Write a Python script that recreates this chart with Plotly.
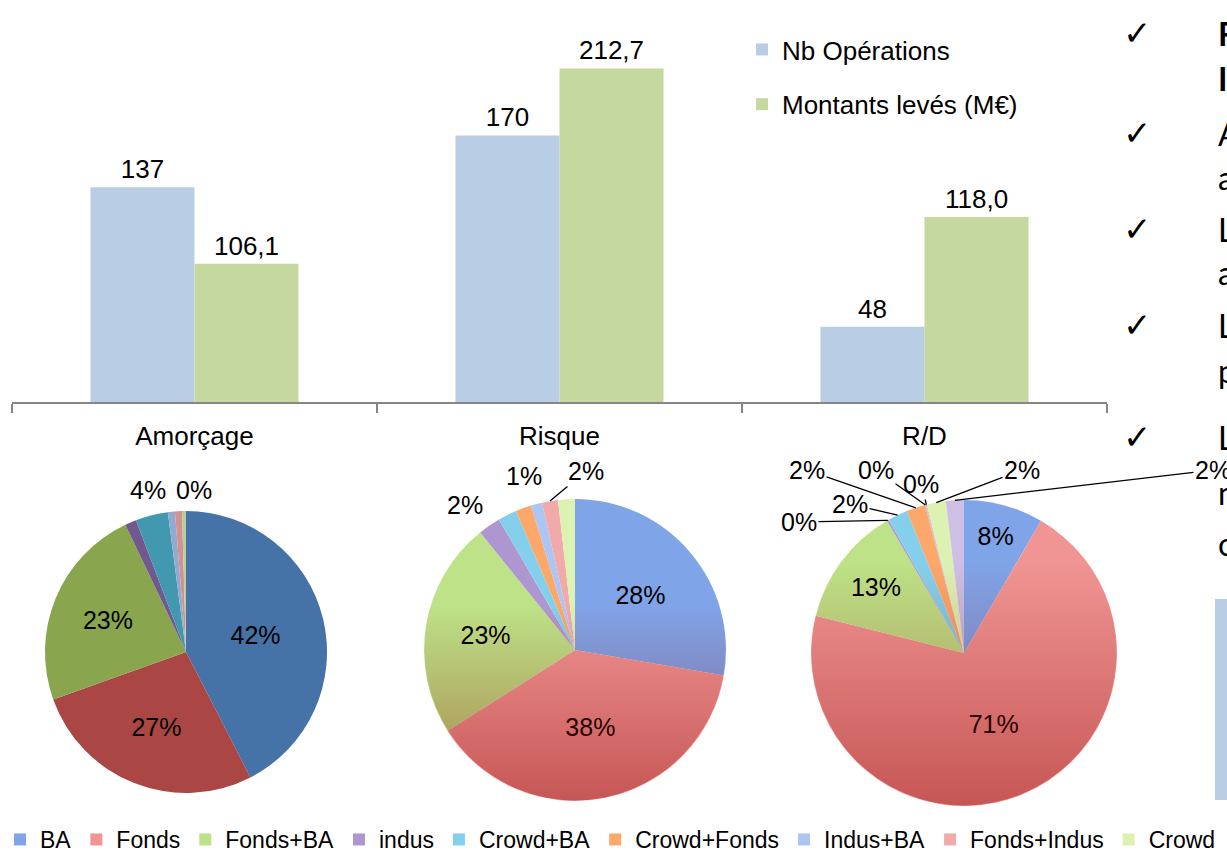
import math
import base64
import plotly.graph_objects as go

W, H = 1227, 861

# ---------------- data ----------------
stades = ["Amorçage", "Risque", "R/D"]
nb_operations = [137, 170, 48]
montants_leves = [88.1, 212.7, 118.0]          # bar height as drawn in the picture
montants_labels = ["106,1", "212,7", "118,0"]  # labels printed above the bars

financeurs = ["BA", "Fonds", "Fonds+BA", "indus", "Crowd+BA", "Crowd+Fonds",
              "Indus+BA", "Fonds+Indus", "Crowd", "Crowd+Indus"]
part_amorcage = [42.3, 27.0, 23.3, 1.3, 3.7, 0.0, 0.8, 0.8, 0.45, 0.0]
part_risque = [27.7, 38.3, 23.2, 2.4, 2.0, 1.7, 1.2, 1.7, 1.8, 0.0]
part_rd = [8.4, 70.6, 12.7, 0.2, 2.1, 2.0, 0.1, 0.1, 2.0, 1.9]

# ---------------- styles ----------------
FONT = "Liberation Sans, Arial, sans-serif"
col_ops = "#b9cde5"
col_mont = "#c5d8a0"
colors_flat = ["#4572a7", "#aa4643", "#89a54e", "#71588f", "#4198af",
               "#db843d", "#93a9cf", "#d19392", "#b9cd96", "#a99bbd"]
colors_soft = ["#80a4e8", "#f09593", "#bde287", "#ae97d0", "#84d0ec",
               "#fca86a", "#adc5f2", "#f1aaaa", "#dcf2b2", "#cdbfe6"]

# pie boxes in pixels (x0, x1, y0, y1)
box_amorcage = (45, 327, 511, 793)
box_risque = (424, 726, 499, 801)
box_rd = (811, 1117, 500, 806)

# outside labels: slice index -> (label centre px, draw leader line)
out_amorcage = {4: ((148, 490), False), 8: ((194, 490), False)}
out_risque = {3: ((465, 505), False), 6: ((524, 476), False), 7: ((586, 471), True)}
out_rd = {3: ((799, 522), True), 4: ((850, 504), True), 5: ((807, 470), True),
          6: ((876, 470), True), 7: ((921, 484), True), 8: ((1022, 470), True),
          9: ((1213, 470), True)}
N_INSIDE = 3  # the three big slices carry their label inside


def dom(b):
    x0, x1, y0, y1 = b
    return dict(x=[x0 / W, x1 / W], y=[1 - y1 / H, 1 - y0 / H])


fig = go.Figure()

fig.add_trace(go.Bar(
    x=stades, y=nb_operations, name="Nb Opérations",
    marker=dict(color=col_ops, line=dict(width=0)),
    text=[str(v) for v in nb_operations], textposition="outside",
    textfont=dict(size=26, color="black"), cliponaxis=False,
    legend="legend2", legendgroup="a"))
fig.add_trace(go.Bar(
    x=stades, y=montants_leves, name="Montants levés (M€)",
    marker=dict(color=col_mont, line=dict(width=0)),
    text=montants_labels, textposition="outside",
    textfont=dict(size=26, color="black"), cliponaxis=False,
    legend="legend2", legendgroup="b"))

annotations = []

pies = [
    # values, colours, box, outside labels, show in legend
    (part_risque, colors_soft, box_risque, out_risque, True),
    (part_amorcage, colors_flat, box_amorcage, out_amorcage, False),
    (part_rd, colors_soft, box_rd, out_rd, False),
]
for vals, cols, box, outs, show in pies:
    n = len(vals) if not show else len(financeurs) - 1   # 10th item is cropped off the legend
    pos = ["inside" if i < N_INSIDE else "none" for i in range(n)]
    fig.add_trace(go.Pie(
        labels=financeurs[:n], values=vals[:n], sort=False, direction="clockwise",
        rotation=0, domain=dom(box), marker=dict(colors=cols[:n], line=dict(width=0)),
        texttemplate="%{percent:.0%}", textposition=pos,
        insidetextorientation="horizontal",
        textfont=dict(size=25, color="black", family=FONT),
        legend="legend", showlegend=show, hoverinfo="label+percent"))

    # outside labels with leader lines, anchored on the slice edge
    x0, x1, y0, y1 = box
    cx, cy = (x0 + x1) / 2, (y0 + y1) / 2
    r = min(x1 - x0, y1 - y0) / 2
    total = sum(vals[:n])
    cum = 0.0
    for i in range(n):
        v = vals[i]
        if i in outs:
            theta = 2 * math.pi * (cum + v / 2) / total
            axp = cx + r * math.sin(theta)
            ayp = cy - r * math.cos(theta)
            (lx, ly), line = outs[i]
            txt = "%d%%" % round(100 * v / total)
            if line:
                annotations.append(dict(
                    text=txt, x=axp / W, y=1 - ayp / H, xref="paper", yref="paper",
                    ax=lx - axp, ay=ly - ayp, axref="pixel", ayref="pixel",
                    showarrow=True, arrowhead=0, arrowwidth=1.3, arrowcolor="black",
                    standoff=0, startstandoff=0,
                    font=dict(size=25, family=FONT, color="black")))
            else:
                annotations.append(dict(
                    text=txt, x=lx / W, y=1 - ly / H, xref="paper", yref="paper",
                    showarrow=False, xanchor="center", yanchor="middle",
                    font=dict(size=25, family=FONT, color="black")))
        cum += v


# vertical shading over the two "gradient" pies (darker towards the bottom)
def shade(color, start, alpha):
    svg = ('<svg xmlns="http://www.w3.org/2000/svg" width="200" height="200" viewBox="0 0 200 200">'
           '<defs><linearGradient id="g" x1="0" y1="0" x2="0" y2="1">'
           f'<stop offset="{start}" stop-color="{color}" stop-opacity="0.0"/>'
           f'<stop offset="1" stop-color="{color}" stop-opacity="{alpha}"/>'
           '</linearGradient></defs>'
           '<circle cx="100" cy="100" r="99.6" fill="url(#g)"/></svg>')
    return "data:image/svg+xml;base64," + base64.b64encode(svg.encode()).decode()


images = []
for box, src in ((box_risque, shade("#8b0000", 0.35, 0.42)),
                 (box_rd, shade("#8b0000", 0.2, 0.42))):
    x0, x1, y0, y1 = box
    cx, cy = (x0 + x1) / 2, (y0 + y1) / 2
    r = min(x1 - x0, y1 - y0) / 2
    images.append(dict(source=src, xref="paper", yref="paper",
                       x=(cx - r) / W, y=1 - (cy - r) / H, sizex=2 * r / W, sizey=2 * r / H,
                       xanchor="left", yanchor="top", sizing="stretch", layer="above"))

check_rows = [33, 133, 229, 325, 437]
for yy in check_rows:
    annotations.append(dict(text="<b>✓</b>", x=1137 / W, y=1 - yy / H, xref="paper", yref="paper",
                            showarrow=False, xanchor="center", yanchor="middle",
                            font=dict(family="DejaVu Sans", size=34, color="black")))
side_text = [("<b>F</b>", 33), ("<b>I</b>", 78), ("A", 133), ("a", 178), ("L", 229),
             ("a", 272), ("L", 325), ("p", 370), ("L", 437), ("n", 493), ("c", 543)]
for t, yy in side_text:
    annotations.append(dict(text=t, x=1216 / W, y=1 - yy / H, xref="paper", yref="paper",
                            showarrow=False, xanchor="left", yanchor="middle",
                            font=dict(family="Lato, Open Sans", size=32, color="black")))

fig.update_layout(
    width=W, height=H, margin=dict(l=0, r=0, t=0, b=0),
    paper_bgcolor="white", plot_bgcolor="white",
    font=dict(family=FONT, size=26, color="black"),
    barmode="group", bargap=0.43, bargroupgap=0,
    xaxis=dict(domain=[12 / W, 1107 / W], type="category", showline=True,
               linecolor="#868686", linewidth=1.5, ticks="outside",
               tickson="boundaries", ticklen=9, tickcolor="#868686", tickwidth=1.5,
               tickfont=dict(size=26, color="black"), ticklabelstandoff=10,
               showgrid=False, zeroline=False, fixedrange=True),
    yaxis=dict(domain=[1 - 402 / H, 1 - 10 / H], range=[0, 250], visible=False,
               fixedrange=True),
    legend=dict(orientation="h", x=0, y=0, xanchor="left", yanchor="bottom",
                font=dict(size=23, family=FONT, color="black"), bgcolor="rgba(0,0,0,0)",
                traceorder="normal"),
    legend2=dict(orientation="v", x=742 / W, y=1 - 26 / H, xanchor="left", yanchor="top",
                 font=dict(size=26, family=FONT, color="black"), tracegroupgap=18,
                 bgcolor="rgba(0,0,0,0)"),
    shapes=[dict(type="rect", xref="paper", yref="paper", x0=1215 / W, x1=1.0,
                 y0=1 - 800 / H, y1=1 - 599 / H, fillcolor="#b9cde5",
                 line=dict(width=0), layer="below")],
    images=images,
    annotations=annotations,
)

fig.write_html("out.html")
